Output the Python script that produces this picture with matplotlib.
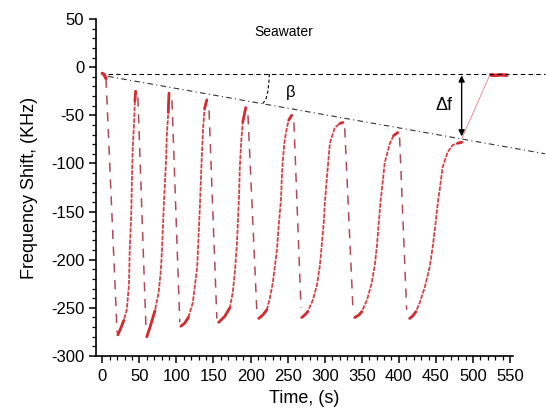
import matplotlib
matplotlib.use("Agg")
import matplotlib.pyplot as plt
from matplotlib.ticker import MultipleLocator

plt.rcParams['font.family'] = ['Liberation Sans', 'DejaVu Sans']
plt.rcParams['axes.unicode_minus'] = False

# recovery curves (time s, frequency shift kHz)
cycle_t = [
    [21, 25, 29, 33, 36, 37, 39, 40, 41, 43, 44, 45],
    [60, 64, 71, 76, 79, 80.5, 83, 86, 87, 89, 90],
    [106, 111, 116, 122, 128, 130, 132, 134, 136, 138, 141],
    [157, 165, 172, 176, 179, 181.5, 183, 184.5, 185.5, 187.5, 189.5, 193.5],
    [211, 216.5, 222, 226, 230, 235.5, 238, 241, 242, 243.5, 246, 249, 251.5, 255.5],
    [269, 273, 277, 284, 289.5, 293.5, 296, 299, 300, 303, 307, 313.5, 320.5, 324.5],
    [340.5, 346, 350, 357, 363.5, 367.5, 370.5, 373, 375.5, 378.5, 381, 388, 393, 398.5],
    [414.5, 418.5, 423, 428, 435, 441.5, 446, 450, 453, 455.5, 459, 466, 472.5, 479.5, 485],
]
cycle_v = [
    [-278, -271, -263, -252, -226, -190, -154, -117, -86, -55, -35, -25],
    [-280, -271, -253, -234, -211, -190, -143, -97, -71, -47, -27],
    [-269, -266, -260, -245, -208, -173, -138, -97, -63, -43, -34],
    [-265, -259, -250, -234, -211, -185, -159, -133, -104, -76, -57, -42],
    [-261, -257.5, -252, -240, -224, -190, -164, -138, -117.5, -97, -76, -63, -55, -50],
    [-260, -257.5, -254, -242, -226.5, -206, -185, -159, -143, -114, -79, -63, -58.5, -57.5],
    [-260, -257.5, -254, -242, -224, -206, -185, -161, -138, -117.5, -99, -79, -71, -68],
    [-261, -258.5, -254, -245, -228.5, -208, -185, -159, -138, -125, -104, -88, -81, -79, -78],
]

# fast drops (dashed), start -> end
drop_t0 = [5, 48, 94, 144, 196.5, 258.5, 327, 401]
drop_v0 = [-12, -31.5, -34.5, -45, -50, -57.5, -63.5, -73]
drop_t1 = [20, 59, 104.5, 154.5, 208.5, 268, 338, 410.5]
drop_v1 = [-276, -273, -265, -261, -254, -250, -249, -252]

start_t = [0, 2.3, 5]
start_v = [-6.5, -7.6, -11.7]
return_t = [485, 522.5]
return_v = [-74, -8.5]
end_t = [522.5, 530, 538, 547]
end_v = [-8, -8.5, -8, -8.5]

red = '#d42a30'
drop_col = '#b04a58'

fig = plt.figure(figsize=(5.46, 4.13), dpi=100)
ax = fig.add_axes([0.1758, 0.138, 0.7638, 0.816])

for t, v in zip(cycle_t, cycle_v):
    ax.plot(t, v, color=red, lw=1.3, alpha=0.9, dashes=(2.5, 0.7))
    ax.plot(t[:3], v[:3], color=red, lw=2.0, solid_capstyle='round')
    ax.plot(t[-2:], v[-2:], color=red, lw=2.0, solid_capstyle='round')

for t0, v0, t1, v1 in zip(drop_t0, drop_v0, drop_t1, drop_v1):
    ax.plot([t0, t1], [v0, v1], color=drop_col, lw=1.1, dashes=(6, 5))

ax.plot(start_t, start_v, color=red, lw=2.4, solid_capstyle='round')
ax.plot(return_t, return_v, color=red, lw=0.5, alpha=0.7)
ax.plot(end_t, end_v, color=red, lw=2.6, solid_capstyle='butt')

# baseline and drift guide lines
ax.plot([7.8, 597], [-7, -7], color='black', lw=0.8, dashes=(4, 3), clip_on=False)
ax.plot([7.8, 597], [-9.6, -89.9], color='#333333', lw=0.8, dashes=(5, 3, 1, 3), clip_on=False)
ax.plot([225.3, 224.7, 223.3, 220.6, 216.6], [-7.1, -15.9, -25.2, -33.5, -37.7],
        color='black', lw=0.8, dashes=(3, 2))
ax.text(254, -26.5, 'β', fontsize=12, ha='center', va='center')

ax.annotate('', xy=(484.7, -8.6), xytext=(484.7, -71.9),
            arrowprops=dict(arrowstyle='<|-|>', color='black', lw=1.0,
                            mutation_scale=9, shrinkA=0, shrinkB=0))
ax.text(461, -39.5, 'Δf', fontsize=13, ha='center', va='center')
ax.text(245.3, 36.3, 'Seawater', fontsize=10, ha='center', va='center')

ax.set_xlim(-8.5, 554)
ax.set_ylim(-300, 50)
ax.xaxis.set_major_locator(MultipleLocator(50))
ax.xaxis.set_minor_locator(MultipleLocator(10))
ax.yaxis.set_major_locator(MultipleLocator(50))
ax.yaxis.set_minor_locator(MultipleLocator(10))

for side in ('top', 'right'):
    ax.spines[side].set_visible(False)
for side in ('left', 'bottom'):
    ax.spines[side].set_linewidth(1.2)

ax.tick_params(which='major', direction='out', length=5, width=1.1, labelsize=12)
ax.tick_params(axis='x', which='major', pad=4.5)
ax.tick_params(axis='y', which='major', pad=3.5)
ax.tick_params(which='minor', direction='out', length=2.8, width=0.9)

ax.set_xlabel('Time, (s)', fontsize=13, labelpad=4)
ax.set_ylabel('Frequency Shift, (KHz)', fontsize=13, labelpad=9)

fig.savefig('out.png', dpi=100)
